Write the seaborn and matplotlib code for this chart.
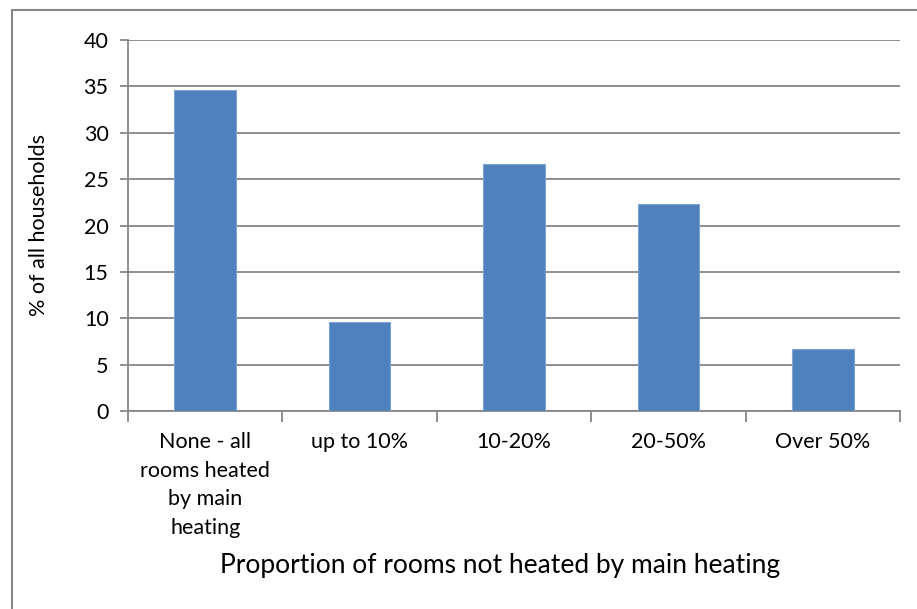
import seaborn as sns
import pandas as pd
import matplotlib.pyplot as plt
from matplotlib.patches import Rectangle

categories = ["None - all\nrooms heated\nby main\nheating", "up to 10%", "10-20%", "20-50%", "Over 50%"]
share = [34.6, 9.6, 26.6, 22.3, 6.7]
y_ticks = [0, 5, 10, 15, 20, 25, 30, 35, 40]

df = pd.DataFrame({"cat": categories, "pct": share})

sns.set_style("white")
plt.rcParams["font.family"] = ["Lato", "DejaVu Sans"]
grey = "#868686"

fig = plt.figure(figsize=(9.17, 6.09), dpi=100)
ax = fig.add_axes([128 / 917, 1 - 411 / 609, 772 / 917, 371 / 609])

sns.barplot(data=df, x="cat", y="pct", color="#4F81BD", saturation=1,
            width=0.4, ax=ax, zorder=3, edgecolor="#7FA4D3", linewidth=0.8)

ax.set_ylim(0, 40)
ax.set_xlim(-0.5, len(categories) - 0.5)
ax.set_yticks(y_ticks)
ax.set_yticklabels([str(v) for v in y_ticks], fontsize=15.5, color="black")
ax.yaxis.grid(True, color=grey, lw=1.3, zorder=0)
ax.set_axisbelow(True)

# ticks at category borders, labels in the middle
ax.set_xticks([i - 0.5 for i in range(len(categories) + 1)])
ax.set_xticklabels([])
ax.set_xticks(range(len(categories)), minor=True)
ax.set_xticklabels(categories, minor=True, fontsize=15.5, linespacing=1.55, va="top", color="black")
ax.tick_params(axis="x", which="major", length=8, color=grey, width=1.3, direction="out", bottom=True)
ax.tick_params(axis="x", which="minor", length=0, pad=15)
ax.tick_params(axis="y", length=6, color=grey, width=1.3, direction="out", left=True, pad=8)

for s in ["top", "right"]:
    ax.spines[s].set_visible(False)
for s in ["left", "bottom"]:
    ax.spines[s].set_color(grey)
    ax.spines[s].set_linewidth(1.3)

ax.set_xlabel("")
ax.set_ylabel("% of all households", fontsize=15.5, labelpad=25, color="black")
fig.text(500 / 917, 1 - 566 / 609, "Proportion of rooms not heated by main heating",
         fontsize=19, ha="center", va="center", color="black")

fig.patches.append(Rectangle((12 / 917, -0.1), 2, 1.1 - 10 / 609, transform=fig.transFigure,
                             fill=False, edgecolor=grey, lw=1.5))

fig.savefig("out.png", dpi=100)
